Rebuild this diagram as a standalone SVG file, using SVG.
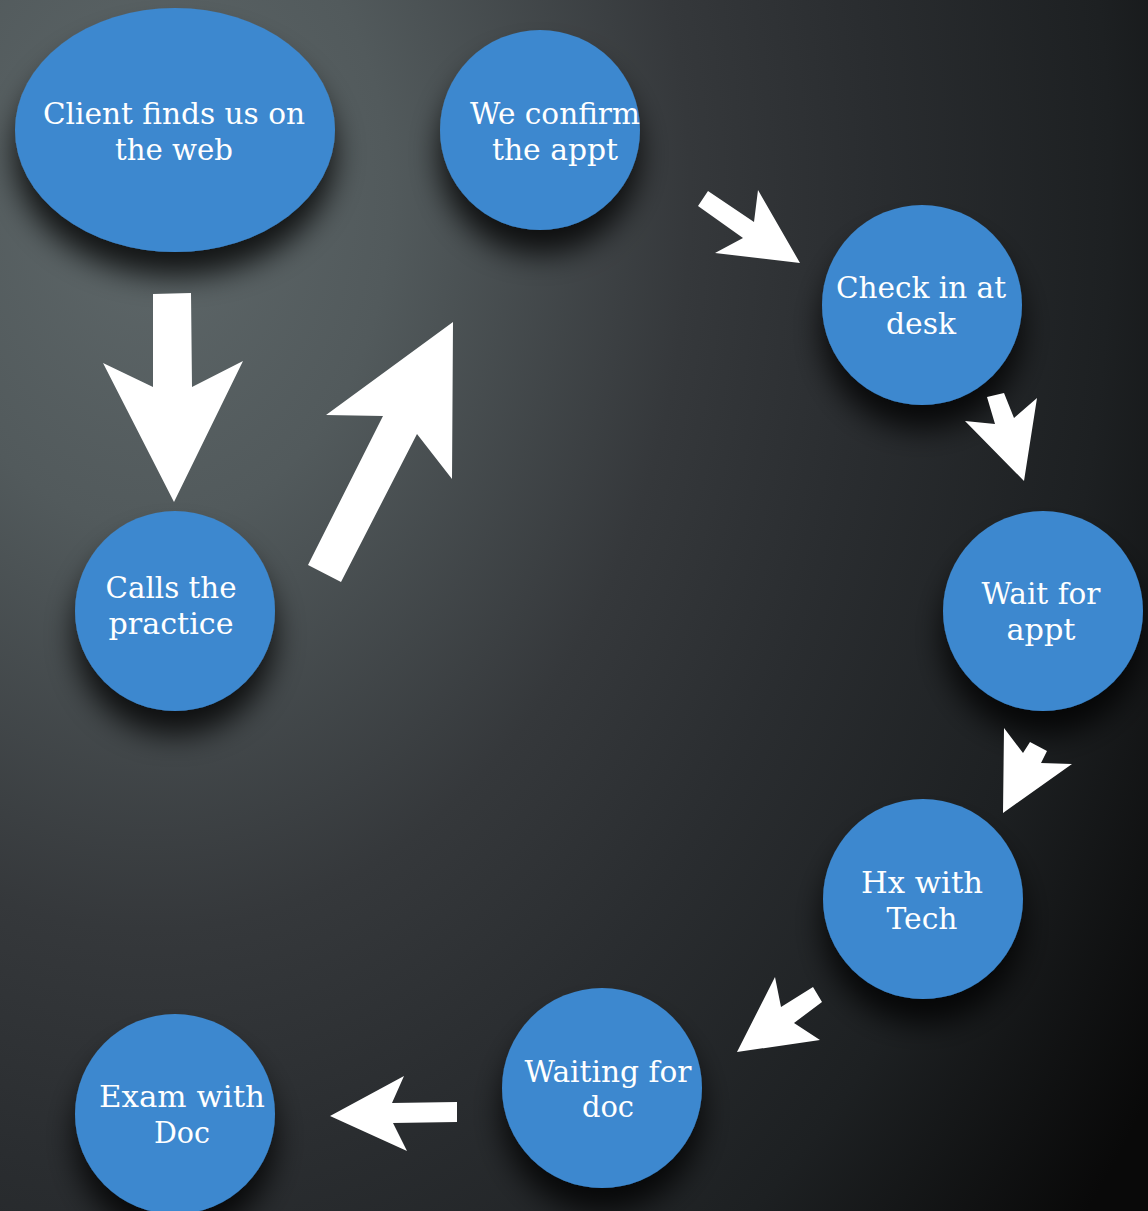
<svg xmlns="http://www.w3.org/2000/svg" width="1148" height="1211" viewBox="0 0 1148 1211">
  <defs>
    <radialGradient id="bg" cx="150" cy="200" r="1200" gradientUnits="userSpaceOnUse" gradientTransform="translate(150 200) scale(1 1.35) translate(-150 -200)">
      <stop offset="0" stop-color="#5e6769"/>
      <stop offset="0.2" stop-color="#525a5c"/>
      <stop offset="0.45" stop-color="#35383b"/>
      <stop offset="0.6" stop-color="#2a2d30"/>
      <stop offset="0.8" stop-color="#1d2022"/>
      <stop offset="1" stop-color="#090909"/>
    </radialGradient>
    <filter id="shadow" x="-40%" y="-40%" width="180%" height="190%">
      <feDropShadow dx="0" dy="24" stdDeviation="15" flood-color="#000" flood-opacity="0.8"/>
    </filter>
    <style>
      .node { fill: #3d88cf; filter: url(#shadow); }
      .label { fill: #ffffff; font-family: "DejaVu Serif", "Liberation Serif", serif; font-size: 30px; text-anchor: middle; }
      .arrow { fill: #ffffff; }
    </style>
  </defs>

  <rect width="1148" height="1211" fill="url(#bg)"/>

  <g id="client-finds-us">
    <ellipse class="node" cx="175" cy="130" rx="160" ry="122"/>
    <text class="label" x="174" y="124" textLength="262" lengthAdjust="spacingAndGlyphs">Client finds us on</text>
    <text class="label" x="174" y="160" textLength="118" lengthAdjust="spacingAndGlyphs">the web</text>
  </g>

  <g id="we-confirm">
    <circle class="node" cx="540" cy="130" r="100"/>
    <text class="label" x="555" y="124" textLength="170" lengthAdjust="spacingAndGlyphs">We confirm</text>
    <text class="label" x="555" y="160" textLength="126" lengthAdjust="spacingAndGlyphs">the appt</text>
  </g>

  <g id="check-in">
    <circle class="node" cx="922" cy="305" r="100"/>
    <text class="label" x="921" y="298" textLength="170" lengthAdjust="spacingAndGlyphs">Check in at</text>
    <text class="label" x="921" y="334" textLength="70" lengthAdjust="spacingAndGlyphs">desk</text>
  </g>

  <g id="wait-for-appt">
    <circle class="node" cx="1043" cy="611" r="100"/>
    <text class="label" x="1041" y="604" textLength="119" lengthAdjust="spacingAndGlyphs">Wait for</text>
    <text class="label" x="1041" y="640" textLength="69" lengthAdjust="spacingAndGlyphs">appt</text>
  </g>

  <g id="hx-with-tech">
    <circle class="node" cx="923" cy="899" r="100"/>
    <text class="label" x="922" y="893" textLength="122" lengthAdjust="spacingAndGlyphs">Hx with</text>
    <text class="label" x="922" y="929" textLength="71" lengthAdjust="spacingAndGlyphs">Tech</text>
  </g>

  <g id="waiting-for-doc">
    <circle class="node" cx="602" cy="1088" r="100"/>
    <text class="label" x="608" y="1082" textLength="167" lengthAdjust="spacingAndGlyphs">Waiting for</text>
    <text class="label" x="608" y="1117" textLength="52" lengthAdjust="spacingAndGlyphs">doc</text>
  </g>

  <g id="exam-with-doc">
    <circle class="node" cx="175" cy="1114" r="100"/>
    <text class="label" x="182" y="1107" textLength="166" lengthAdjust="spacingAndGlyphs">Exam with</text>
    <text class="label" x="182" y="1143" textLength="56" lengthAdjust="spacingAndGlyphs">Doc</text>
  </g>

  <g id="calls-practice">
    <circle class="node" cx="175" cy="611" r="100"/>
    <text class="label" x="171" y="598" textLength="131" lengthAdjust="spacingAndGlyphs">Calls the</text>
    <text class="label" x="171" y="634" textLength="125" lengthAdjust="spacingAndGlyphs">practice</text>
  </g>

  <!-- block arrows, drawn last so node shadows stay underneath -->
  <g id="connectors">
    <polygon class="arrow" points="153,294 191,293 192,387 243,361 174,502 103,363 153,387"/>
    <polygon class="arrow" points="308,565 383,416 326,415 453,322 452,479 417,434 341,582"/>
    <polygon class="arrow" points="708,191 754,222 758,190 800,263 715,253 743,238 698,206"/>
    <polygon class="arrow" points="987,397 1004,393 1014,418 1037,398 1024,481 965,421 995,424"/>
    <polygon class="arrow" points="1004,728 1023,753 1030,742 1047,751 1041,763 1072,764 1003,813"/>
    <polygon class="arrow" points="775,977 781,1007 813,987 822,1002 794,1023 820,1040 737,1052"/>
    <polygon class="arrow" points="330,1116 404,1076 392,1103 457,1102 457,1122 393,1123 407,1151"/>
  </g>
</svg>
